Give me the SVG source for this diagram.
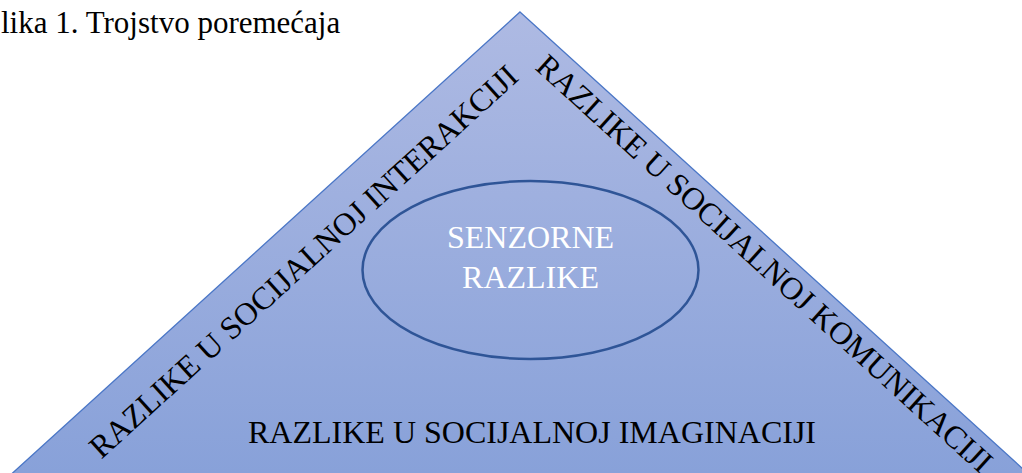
<svg xmlns="http://www.w3.org/2000/svg" width="1022" height="473" viewBox="0 0 1022 473">
  <defs>
    <linearGradient id="triFill" gradientUnits="userSpaceOnUse" x1="0" y1="12" x2="0" y2="473">
      <stop offset="0" stop-color="#aebae3"/>
      <stop offset="1" stop-color="#88a1d9"/>
    </linearGradient>
  </defs>
  <style>
    .t { font-family: "Liberation Serif", "Times New Roman", serif; font-size: 32px; fill: #000; }
    .w { fill: #ffffff; }
  </style>
  <rect width="1022" height="473" fill="#ffffff"/>
  <text id="caption" class="t" x="1" y="33" font-size="31" style="font-size:31px">lika 1. Trojstvo poremećaja</text>
  <g id="triangle">
    <polygon points="520,12 1034,479 6,479" fill="url(#triFill)" stroke="#4a76c6" stroke-width="1.3"/>
  </g>
  <g id="connectors"/>
  <g id="left-side">
    <text class="t" text-anchor="middle" transform="translate(310.7,269.4) rotate(-42.27)">RAZLIKE U SOCIJALNOJ INTERAKCIJI</text>
  </g>
  <g id="right-side">
    <text class="t" text-anchor="middle" transform="translate(757.3,271.4) rotate(42.27)">RAZLIKE U SOCIJALNOJ KOMUNIKACIJI</text>
  </g>
  <g id="base">
    <text class="t" text-anchor="middle" x="532" y="443">RAZLIKE U SOCIJALNOJ IMAGINACIJI</text>
  </g>
  <g id="center">
    <ellipse cx="530.5" cy="270" rx="168" ry="89" fill="none" stroke="#2f5597" stroke-width="2.5"/>
    <text class="t w" text-anchor="middle" x="530.5" y="248">SENZORNE</text>
    <text class="t w" text-anchor="middle" x="530.5" y="288">RAZLIKE</text>
  </g>
</svg>
